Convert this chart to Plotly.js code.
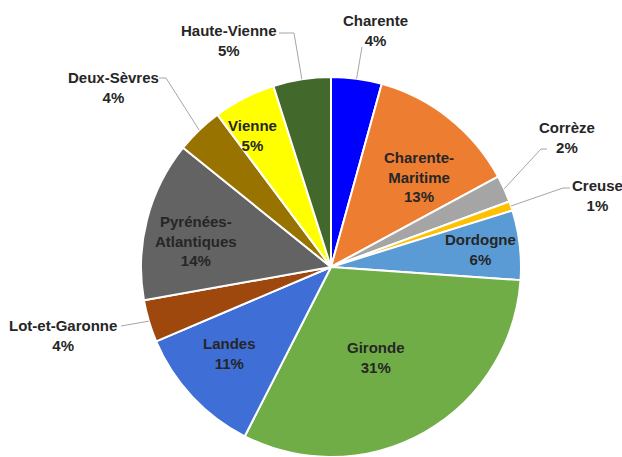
<!DOCTYPE html>
<html>
<head>
<meta charset="utf-8">
<script src="https://cdn.plot.ly/plotly-3.0.1.min.js"></script>
<style>
html,body{margin:0;padding:0;background:#fff;overflow:hidden;}
#chart{width:622px;height:457px;}
</style>
</head>
<body>
<div id="chart"></div>
<script>
// ---- data ----
const categories = ['Charente','Charente-Maritime','Corrèze','Creuse','Dordogne','Gironde','Landes','Lot-et-Garonne','Pyrénées-Atlantiques','Deux-Sèvres','Vienne','Haute-Vienne'];
const displayNames = ['Charente','Charente-<br>Maritime','Corrèze','Creuse','Dordogne','Gironde','Landes','Lot-et-Garonne','Pyrénées-<br>Atlantiques','Deux-Sèvres','Vienne','Haute-Vienne'];
const values = [4.3,12.8,2.3,0.8,5.9,31.4,11.1,3.6,13.6,4.0,5.3,4.9];
const colors = ['#0000FF','#ED7D31','#A5A5A5','#FFC000','#5B9BD5','#70AD47','#3F6FD6','#9E480E','#636363','#997300','#FFFF00','#43682B'];

// ---- layout / style ----
const W = 622, H = 457;
const dom = {x:[0.22669,0.83762], y:[0,0.8315]};
const cx = (dom.x[0]+dom.x[1])/2*W;
const cy = (1-(dom.y[0]+dom.y[1])/2)*H;
const R = Math.min((dom.x[1]-dom.x[0])*W,(dom.y[1]-dom.y[0])*H)/2;
const textColor = '#262626';
const lineColor = '#A6A6A6';
const font = {family:'Liberation Sans, Arial, sans-serif', size:15, color:textColor, weight:'bold'};

// inside labels: radial fraction + pixel nudge
const insideStyle = {
  1:{f:0.66, nx:10, ny:8},
  4:{f:0.79, nx:0, ny:0},
  5:{f:0.53, nx:-5, ny:3},
  6:{f:0.70, nx:-4, ny:-4},
  8:{f:0.72, nx:-2, ny:8},
  10:{f:0.81, nx:-8, ny:5}
};
// outside labels: label centre (px) and leader-line points (px), tip from data
const outsideStyle = {
  0:{pos:[375,31], line:[[362,47]]},
  2:{pos:[567,137], line:[[547,149],[541,149]]},
  3:{pos:[597,196], line:[[570,188],[563,188]]},
  7:{pos:[63,335], line:[[121,326]]},
  9:{pos:[113,87], line:[[159,78],[166,78]]},
  11:{pos:[229,41], line:[[279,33],[294,33]]}
};

const total = values.reduce((a,b)=>a+b,0);
const px2x = p => p/W, py2y = p => 1-p/H;
const annotations = [], shapes = [];
let cum = 0;
values.forEach((v,i)=>{
  const mid = (cum + v/2)/total*2*Math.PI;
  cum += v;
  const pct = Math.round(v/total*100)+'%';
  const txt = displayNames[i]+'<br>'+pct;
  if (insideStyle[i]) {
    const s = insideStyle[i];
    const x = cx + s.f*R*Math.sin(mid) + s.nx;
    const y = cy - s.f*R*Math.cos(mid) + s.ny;
    annotations.push({xref:'paper',yref:'paper',x:px2x(x),y:py2y(y),text:txt,showarrow:false,font:font,xanchor:'center',yanchor:'middle'});
  } else {
    const s = outsideStyle[i];
    const tip = [cx + R*Math.sin(mid), cy - R*Math.cos(mid)];
    annotations.push({xref:'paper',yref:'paper',x:px2x(s.pos[0]),y:py2y(s.pos[1]),text:txt,showarrow:false,font:font,xanchor:'center',yanchor:'middle'});
    const pts = s.line.concat([tip]);
    const path = pts.map((p,k)=>(k?'L':'M')+px2x(p[0])+','+py2y(p[1])).join(' ');
    shapes.push({type:'path',xref:'paper',yref:'paper',path:path,line:{color:lineColor,width:1}});
  }
});

const trace = {
  type:'pie', labels:categories, values:values, sort:false, direction:'clockwise', rotation:0,
  marker:{colors:colors, line:{color:'#FFFFFF', width:2}},
  textinfo:'none', hoverinfo:'label+percent', domain:dom
};
const layout = {
  width:W, height:H, margin:{l:0,r:0,t:0,b:0,pad:0}, showlegend:false,
  paper_bgcolor:'#FFFFFF', plot_bgcolor:'#FFFFFF',
  annotations:annotations, shapes:shapes
};
Plotly.newPlot('chart',[trace],layout,{displayModeBar:false,staticPlot:true});
</script>
</body>
</html>
